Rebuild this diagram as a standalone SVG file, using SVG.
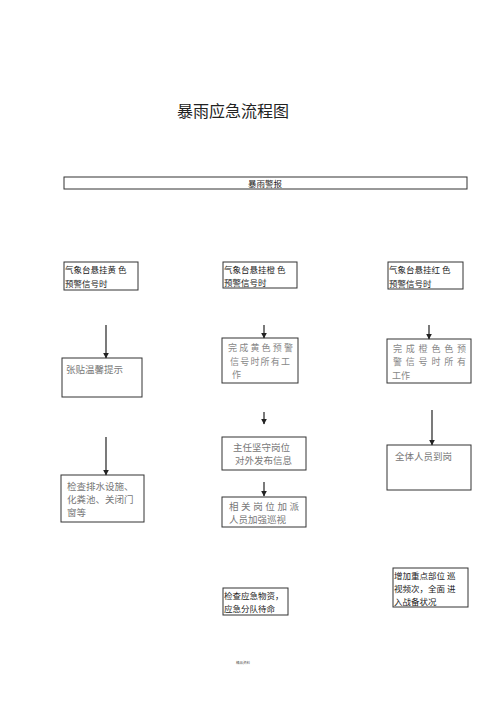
<svg xmlns="http://www.w3.org/2000/svg" width="500" height="708" viewBox="0 0 500 708">
<style>
  text { font-family: "Noto Sans CJK SC", "Liberation Serif", serif; }
  .box { fill: #fff; stroke: #333; stroke-width: 1; }
  .t9 { font-size: 8.5px; fill: #222; }
  .tg { font-size: 9.5px; fill: #777; }
  .tgl { font-size: 9px; fill: #888; }
  .title { font-size: 16px; fill: #222; }
  .conn line { stroke: #333; stroke-width: 1.3; }
</style>
<defs>
  <marker id="ah" viewBox="0 0 10 10" refX="9" refY="5" markerWidth="6" markerHeight="6" orient="auto" markerUnits="userSpaceOnUse">
    <path d="M0,0 L10,5 L0,10 z" fill="#222"/>
  </marker>
</defs>
<rect width="500" height="708" fill="#fff"/>

<text class="title" x="233" y="117" text-anchor="middle">暴雨应急流程图</text>

<g id="banner">
  <rect class="box" x="64" y="177" width="403" height="12"/>
  <text class="t9" x="265" y="186.5" text-anchor="middle">暴雨警报</text>
</g>

<!-- Left column -->
<g id="L1">
  <rect class="box" x="64" y="262" width="74" height="28"/>
  <text class="t9" x="65" y="273">气象台悬挂黄 色</text>
  <text class="t9" x="65" y="287">预警信号时</text>
</g>
<g id="L2">
  <rect class="box" x="62" y="358" width="80" height="39"/>
  <text class="tg" x="66" y="373">张贴温馨提示</text>
</g>
<g id="L3">
  <rect class="box" x="61" y="475" width="83" height="47"/>
  <text class="tg" x="67" y="490">检查排水设施、</text>
  <text class="tg" x="67" y="503">化粪池、关闭门</text>
  <text class="tg" x="67" y="516">窗等</text>
</g>

<!-- Middle column -->
<g id="M1">
  <rect class="box" x="223" y="262" width="74" height="26"/>
  <text class="t9" x="224" y="273">气象台悬挂橙 色</text>
  <text class="t9" x="224" y="286">预警信号时</text>
</g>
<g id="M2">
  <rect class="box" x="222" y="338" width="76" height="45"/>
  <text class="tgl" x="228" y="351" textLength="65" lengthAdjust="spacing">完成黄色预警</text>
  <text class="tgl" x="230" y="364.5" textLength="60" lengthAdjust="spacing">信号时所有工</text>
  <text class="tgl" x="232" y="378">作</text>
</g>
<g id="M3">
  <rect class="box" x="222" y="437" width="84" height="33"/>
  <text class="tg" x="233" y="451">主任坚守岗位</text>
  <text class="tg" x="235" y="464">对外发布信息</text>
</g>
<g id="M4">
  <rect class="box" x="222" y="497" width="84" height="30"/>
  <text class="tg" x="229" y="510" textLength="70" lengthAdjust="spacing">相关岗位加派</text>
  <text class="tg" x="229" y="523">人员加强巡视</text>
</g>
<g id="M5">
  <rect class="box" x="223" y="588" width="65" height="27"/>
  <text class="t9" x="224" y="599">检查应急物资，</text>
  <text class="t9" x="224" y="612">应急分队待命</text>
</g>

<!-- Right column -->
<g id="R1">
  <rect class="box" x="388" y="262" width="75" height="27"/>
  <text class="t9" x="389" y="273">气象台悬挂红 色</text>
  <text class="t9" x="389" y="287">预警信号时</text>
</g>
<g id="R2">
  <rect class="box" x="387" y="339" width="84" height="44"/>
  <text class="tgl" x="393" y="351.5" textLength="73" lengthAdjust="spacing">完成橙色色预</text>
  <text class="tgl" x="393" y="365" textLength="73" lengthAdjust="spacing">警信号时所有</text>
  <text class="tgl" x="392" y="378.5">工作</text>
</g>
<g id="R3">
  <rect class="box" x="387" y="445" width="84" height="45"/>
  <text class="tg" x="395" y="460">全体人员到岗</text>
</g>
<g id="R4">
  <rect class="box" x="393" y="568" width="75" height="39"/>
  <text class="t9" x="394" y="579">增加重点部位 巡</text>
  <text class="t9" x="394" y="592">视频次，全面 进</text>
  <text class="t9" x="394" y="605">入战备状况</text>
</g>

<g id="connectors" class="conn">
  <line x1="106" y1="325" x2="106" y2="358" marker-end="url(#ah)"/>
  <line x1="106" y1="437" x2="106" y2="475" marker-end="url(#ah)"/>
  <line x1="264" y1="325" x2="264" y2="338" marker-end="url(#ah)"/>
  <line x1="264" y1="412" x2="264" y2="424" marker-end="url(#ah)"/>
  <line x1="264" y1="482" x2="264" y2="496" marker-end="url(#ah)"/>
  <line x1="429" y1="325" x2="429" y2="339" marker-end="url(#ah)"/>
  <line x1="432" y1="410" x2="432" y2="445" marker-end="url(#ah)"/>
</g>

<text x="243" y="664" font-size="3.5" fill="#555" text-anchor="middle">精品资料</text>
</svg>
